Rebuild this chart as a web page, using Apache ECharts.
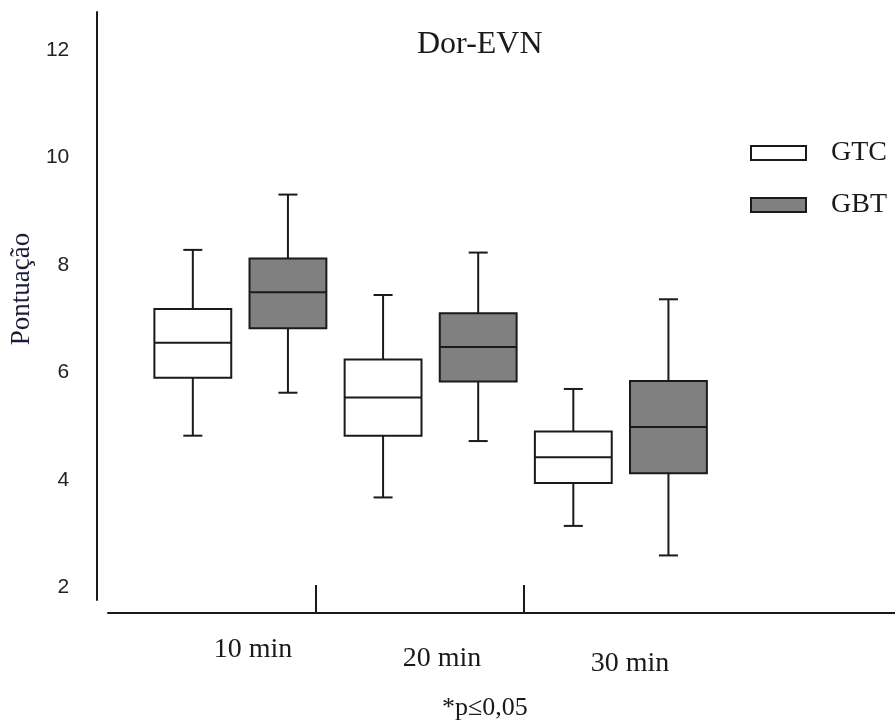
<!DOCTYPE html>
<html>
<head>
<meta charset="utf-8">
<script src="https://cdn.jsdelivr.net/npm/echarts@6/dist/echarts.min.js"></script>
<style>
  html, body { margin: 0; padding: 0; background: #fff; }
  #chart { width: 895px; height: 722px; }
</style>
</head>
<body>
<div id="chart"></div>
<script>
// Dor-EVN: pontuação por tempo, GTC x GBT (boxplot)
const times = ["10 min", "20 min", "30 min"];
const groups = ["GTC", "GBT"];
// [min, Q1, mediana, Q3, max]
const gtcBox = [
  [4.82, 5.90, 6.55, 7.18, 8.28],
  [3.67, 4.82, 5.53, 6.24, 7.44],
  [3.14, 3.94, 4.42, 4.90, 5.69],
];
const gbtBox = [
  [5.62, 6.82, 7.49, 8.12, 9.31],
  [4.72, 5.83, 6.47, 7.10, 8.23],
  [2.59, 4.12, 4.98, 5.84, 7.36],
];
const yTicks = [2, 4, 6, 8, 10, 12];
// eixo inferior desenhado à parte (marcas e rótulos deslocados como no original)
const sepTicks = [1, 2];
const timeLabelPos = [0.697, 1.606, 2.51];

const INK = "#1a1a1a";
const SERIF = "Liberation Serif";

function boxRenderer(offset, fill) {
  return function (params, api) {
    const c = api.value(0);
    const band = api.size([1, 0])[0];
    const x = api.coord([c, 0])[0] + offset * band;
    const w = band * 0.404, cap = band * 0.1;
    const p = [1, 2, 3, 4, 5].map(i => api.coord([c, api.value(i)])[1]);
    const ln = { stroke: INK, lineWidth: 2 };
    return {
      type: "group",
      children: [
        { type: "line", shape: { x1: x, y1: p[4], x2: x, y2: p[3] }, style: ln },
        { type: "line", shape: { x1: x, y1: p[1], x2: x, y2: p[0] }, style: ln },
        { type: "line", shape: { x1: x - cap / 2, y1: p[4], x2: x + cap / 2, y2: p[4] }, style: ln },
        { type: "line", shape: { x1: x - cap / 2, y1: p[0], x2: x + cap / 2, y2: p[0] }, style: ln },
        { type: "rect", shape: { x: x - w / 2, y: p[3], width: w, height: p[1] - p[3] },
          style: { fill: fill, stroke: INK, lineWidth: 2 } },
        { type: "line", shape: { x1: x - w / 2, y1: p[2], x2: x + w / 2, y2: p[2] }, style: ln },
      ],
    };
  };
}

const toData = arr => arr.map((b, i) => [i].concat(b));
const richPad = [0, 9, 14];

const chart = echarts.init(document.getElementById("chart"));
chart.setOption({
  animation: false,
  backgroundColor: "#fff",
  title: [
    { text: "Dor-EVN", left: 417, top: 29, padding: 0,
      textStyle: { fontFamily: SERIF, fontSize: 32, fontWeight: "normal", color: INK } },
    { text: "*p≤0,05", left: 442, top: 695, padding: 0,
      textStyle: { fontFamily: SERIF, fontSize: 26, fontWeight: "normal", color: INK } },
  ],
  legend: {
    orient: "vertical", left: 750, top: 139, padding: 0,
    itemWidth: 55, itemHeight: 14, itemGap: 24, icon: "rect",
    selectedMode: false,
    textStyle: { fontFamily: SERIF, fontSize: 28, color: INK, padding: [0, 0, 0, 20] },
    data: [
      { name: groups[0], itemStyle: { color: "#fff", borderColor: INK, borderWidth: 2 } },
      { name: groups[1], itemStyle: { color: "#808080", borderColor: INK, borderWidth: 2 } },
    ],
  },
  grid: [
    { left: 144, right: 179, top: 12, bottom: 122 },
    { left: 108, right: 0, top: 600, bottom: 109 },
  ],
  xAxis: [
    { type: "category", gridIndex: 0, data: times, show: false },
    { type: "value", gridIndex: 1, min: 0, max: 787 / 208, position: "bottom",
      axisLine: { show: true, lineStyle: { color: INK, width: 2 } },
      axisTick: { show: true, inside: true, length: 28, customValues: sepTicks,
                  lineStyle: { color: INK, width: 2 } },
      splitLine: { show: false },
      axisLabel: {
        customValues: timeLabelPos, margin: 23,
        formatter: v => { const i = timeLabelPos.indexOf(v); return "{t" + i + "|" + times[i] + "}"; },
        rich: {
          t0: { fontFamily: SERIF, fontSize: 28, color: INK, padding: [richPad[0], 0, 0, 0] },
          t1: { fontFamily: SERIF, fontSize: 28, color: INK, padding: [richPad[1], 0, 0, 0] },
          t2: { fontFamily: SERIF, fontSize: 28, color: INK, padding: [richPad[2], 0, 0, 0] },
        },
      } },
  ],
  yAxis: [
    { type: "value", gridIndex: 0, min: 1.76, max: 12.71, offset: 49,
      name: "Pontuação", nameLocation: "middle", nameRotate: 90, nameGap: 60,
      nameTextStyle: { fontFamily: SERIF, fontSize: 27, color: "#1c1c3a", padding: [0, 0, 0, 34] },
      axisLine: { show: true, lineStyle: { color: INK, width: 2 } },
      axisTick: { show: false },
      splitLine: { show: false },
      axisLabel: { customValues: yTicks, margin: 27, fontFamily: "Liberation Sans", fontSize: 21, color: "#222" } },
    { type: "value", gridIndex: 1, show: false },
  ],
  series: [
    { name: groups[0], type: "custom", xAxisIndex: 0, yAxisIndex: 0,
      encode: { x: 0, y: [1, 2, 3, 4, 5] }, renderItem: boxRenderer(-0.25, "#fff"),
      itemStyle: { color: "#fff", borderColor: INK }, data: toData(gtcBox) },
    { name: groups[1], type: "custom", xAxisIndex: 0, yAxisIndex: 0,
      encode: { x: 0, y: [1, 2, 3, 4, 5] }, renderItem: boxRenderer(0.25, "#808080"),
      itemStyle: { color: "#808080", borderColor: INK }, data: toData(gbtBox) },
  ],
});
</script>
</body>
</html>
